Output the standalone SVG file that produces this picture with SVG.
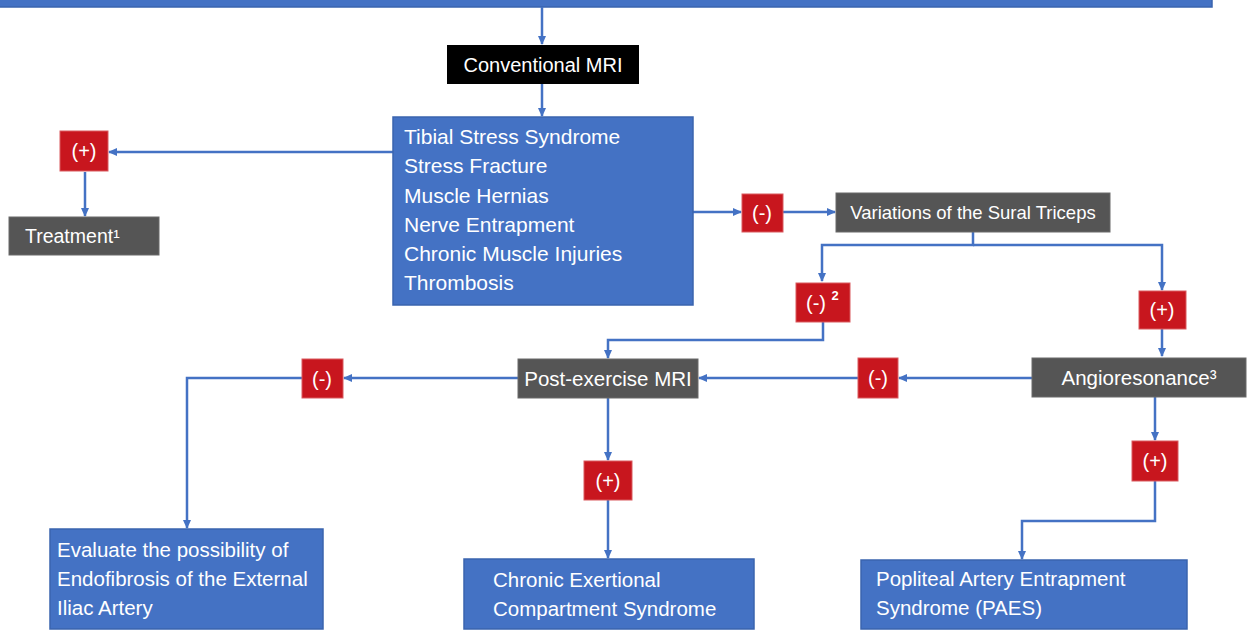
<svg xmlns="http://www.w3.org/2000/svg" width="1247" height="630" viewBox="0 0 1247 630">
<defs>
<marker id="ah" markerWidth="10" markerHeight="10" refX="8" refY="5" orient="auto" markerUnits="userSpaceOnUse">
<path d="M0,1 L9,5 L0,9 Z" fill="#4472C4"/>
</marker>
<style>
.blue{fill:#4472C4;stroke:#3A64AE;stroke-width:1.5}
.grey{fill:#555555;stroke:#6a6a6a;stroke-width:1}
.black{fill:#000000}
.red{fill:#C8161E;stroke:#D95a5f;stroke-width:1}
.t{fill:#ffffff}
.c{text-anchor:middle}
.conn path{fill:none;stroke:#4472C4;stroke-width:2.5;marker-end:url(#ah)}
</style>
</defs>
<rect width="1247" height="630" fill="#ffffff"/>
<g id="top-bar"><rect x="-2" y="-2" width="1214" height="9" class="blue"/></g>
<g class="conn" id="connectors">
<path d="M542,7 V44"/>
<path d="M542,84 V116"/>
<path d="M393,152 H109"/>
<path d="M85,172 V216"/>
<path d="M693,212 H741"/>
<path d="M783,212 H835"/>
<path d="M973,232 V245 H822 V281"/>
<path d="M973,245 H1162 V290"/>
<path d="M1162,329 V356"/>
<path d="M1032,378 H899"/>
<path d="M858,378 H699"/>
<path d="M823,322 V340 H608 V358"/>
<path d="M518,378 H344"/>
<path d="M302,378 H187 V528"/>
<path d="M608,398 V460"/>
<path d="M608,500 V558"/>
<path d="M1155,396 V440"/>
<path d="M1155,481 V521 H1022 V559"/>
</g>
<g font-family="'Liberation Sans', Arial, Helvetica, sans-serif">
<g id="conventional-mri"><rect x="447" y="45" width="192" height="39" class="black"/><text x="543" y="72" class="t c" font-size="20">Conventional MRI</text></g>
<g id="differentials"><rect x="393" y="117" width="300" height="188" class="blue"/>
<text class="t" font-size="21" x="404"><tspan x="404" y="144">Tibial Stress Syndrome</tspan><tspan x="404" y="173">Stress Fracture</tspan><tspan x="404" y="203">Muscle Hernias</tspan><tspan x="404" y="232">Nerve Entrapment</tspan><tspan x="404" y="261">Chronic Muscle Injuries</tspan><tspan x="404" y="290">Thrombosis</tspan></text></g>
<g id="pos1"><rect x="60" y="131" width="48" height="40" class="red"/><text x="84" y="158" class="t c" font-size="20">(+)</text></g>
<g id="treatment"><rect x="9" y="217" width="150" height="38" class="grey"/><text x="25" y="243" class="t" font-size="19.5">Treatment¹</text></g>
<g id="neg1"><rect x="742" y="194" width="41" height="38" class="red"/><text x="762" y="220" class="t c" font-size="20">(-)</text></g>
<g id="sural-triceps"><rect x="836" y="193" width="274" height="39" class="grey"/><text x="973" y="219" class="t c" font-size="18.5">Variations of the Sural Triceps</text></g>
<g id="neg2"><rect x="796" y="283" width="54" height="39" class="red"/><text x="816" y="310" class="t c" font-size="20">(-)</text><text x="835" y="300" class="t c" font-size="13" font-weight="bold">2</text></g>
<g id="pos2"><rect x="1139" y="291" width="47" height="38" class="red"/><text x="1162" y="317" class="t c" font-size="20">(+)</text></g>
<g id="angioresonance"><rect x="1032" y="358" width="214" height="39" class="grey"/><text x="1139" y="385" class="t c" font-size="20.5">Angioresonance³</text></g>
<g id="neg3"><rect x="858" y="358" width="40" height="40" class="red"/><text x="878" y="385" class="t c" font-size="20">(-)</text></g>
<g id="post-exercise-mri"><rect x="518" y="359" width="180" height="39" class="grey"/><text x="608" y="386" class="t c" font-size="20.5">Post-exercise MRI</text></g>
<g id="neg4"><rect x="302" y="359" width="41" height="39" class="red"/><text x="322" y="386" class="t c" font-size="20">(-)</text></g>
<g id="pos3"><rect x="584" y="461" width="48" height="39" class="red"/><text x="608" y="488" class="t c" font-size="20">(+)</text></g>
<g id="pos4"><rect x="1132" y="441" width="46" height="40" class="red"/><text x="1155" y="468" class="t c" font-size="20">(+)</text></g>
<g id="endofibrosis"><rect x="50" y="529" width="273" height="100" class="blue"/>
<text class="t" font-size="20.5"><tspan x="57" y="557">Evaluate the possibility of</tspan><tspan x="57" y="586">Endofibrosis of the External</tspan><tspan x="57" y="615">Iliac Artery</tspan></text></g>
<g id="cecs"><rect x="464" y="559" width="290" height="70" class="blue"/>
<text class="t" font-size="20.5"><tspan x="493" y="587">Chronic Exertional</tspan><tspan x="493" y="616">Compartment Syndrome</tspan></text></g>
<g id="paes"><rect x="861" y="560" width="326" height="69" class="blue"/>
<text class="t" font-size="20.5"><tspan x="876" y="586">Popliteal Artery Entrapment</tspan><tspan x="876" y="615">Syndrome (PAES)</tspan></text></g>
</g>
</svg>
